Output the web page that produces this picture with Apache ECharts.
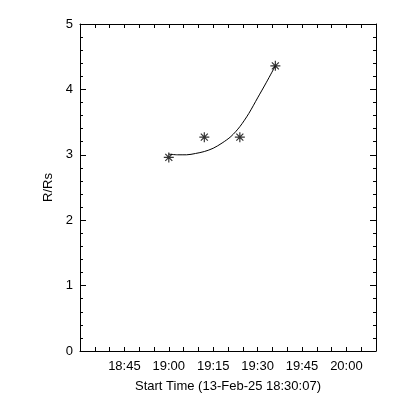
<!DOCTYPE html>
<html>
<head>
<meta charset="utf-8">
<script src="https://cdn.jsdelivr.net/npm/echarts@6/dist/echarts.min.js"></script>
<style>html,body{margin:0;padding:0;background:#fff}#c{width:400px;height:400px}</style>
</head>
<body>
<div id="c"></div>
<script>
// minutes after 18:30
var obsTimes = [30, 42, 54, 66];
var obsValues = [2.96, 3.27, 3.27, 4.36];
var fitTimes = [30, 33, 36, 39, 42, 45, 48, 51, 54, 57, 60, 63, 66];
var fitValues = [3.01, 3.00, 3.00, 3.02, 3.05, 3.10, 3.18, 3.28, 3.43, 3.63, 3.87, 4.11, 4.36];
var tickMinutes = [15, 30, 45, 60, 75, 90];
var tickLabels = ['18:45', '19:00', '19:15', '19:30', '19:45', '20:00'];
var xTitle = 'Start Time (13-Feb-25 18:30:07)';
var yTitle = 'R/Rs';

var font = 'Liberation Sans';
var black = '#000';
function pairs(a, b) { return a.map(function (v, i) { return [v, b[i]]; }); }
function xLabel(v) {
  var i = tickMinutes.indexOf(Math.round(v));
  return i >= 0 ? tickLabels[i] : '';
}
var star = 'path://M0,5L10,5M5,0L5,10M1.5,1.5L8.5,8.5M8.5,1.5L1.5,8.5';
var baseX = {
  type: 'value', min: 0, max: 100, interval: 5,
  axisLine: { onZero: false, lineStyle: { color: black, width: 1 } },
  axisTick: { inside: true, length: 4, lineStyle: { color: black } },
  splitLine: { show: false }
};
var baseY = {
  type: 'value', min: 0, max: 5, interval: 1,
  axisLine: { onZero: false, lineStyle: { color: black, width: 1 } },
  axisTick: { inside: true, length: 6, lineStyle: { color: black } },
  minorTick: { show: true, splitNumber: 5, length: 3, lineStyle: { color: black } },
  splitLine: { show: false }, minorSplitLine: { show: false }
};
var chart = echarts.init(document.getElementById('c'), null, { renderer: 'canvas' });
chart.setOption({
  backgroundColor: '#fff',
  animation: false,
  grid: { left: 80, right: 24, top: 24, bottom: 49 },
  xAxis: [
    Object.assign({}, baseX, {
      position: 'bottom', name: xTitle, nameLocation: 'middle', nameGap: 29,
      nameTextStyle: { color: black, fontFamily: font, fontSize: 13 },
      axisLabel: { color: black, fontFamily: font, fontSize: 13, margin: 9, formatter: xLabel, showMinLabel: true, showMaxLabel: true }
    }),
    Object.assign({}, baseX, { position: 'top', axisLabel: { show: false } })
  ],
  yAxis: [
    Object.assign({}, baseY, {
      position: 'left', name: yTitle, nameLocation: 'middle', nameGap: 25,
      nameTextStyle: { color: black, fontFamily: font, fontSize: 13 },
      axisLabel: { color: black, fontFamily: font, fontSize: 13, margin: 7 }
    }),
    Object.assign({}, baseY, { position: 'right', axisLabel: { show: false } })
  ],
  series: [
    {
      type: 'line', data: pairs(fitTimes, fitValues), smooth: 0.3, showSymbol: false,
      lineStyle: { color: black, width: 1 }, xAxisIndex: 0, yAxisIndex: 0
    },
    {
      type: 'scatter', data: pairs(obsTimes, obsValues), symbol: star, symbolSize: 10,
      itemStyle: { color: 'rgba(0,0,0,0)', borderColor: black, borderWidth: 1.2 },
      xAxisIndex: 0, yAxisIndex: 0
    }
  ]
});
</script>
</body>
</html>
